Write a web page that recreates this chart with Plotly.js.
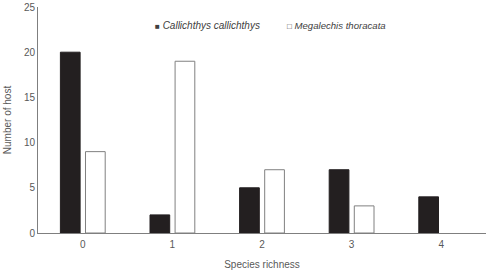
<!DOCTYPE html>
<html><head><meta charset="utf-8">
<script src="https://cdn.plot.ly/plotly-3.0.1.min.js"></script>
<style>html,body{margin:0;padding:0;background:#fff}#c{width:489px;height:270px}</style>
</head><body><div id="c"></div>
<script>
const categories = ['0','1','2','3','4'];
const callichthys = [20, 2, 5, 7, 4];
const megalechis = [9, 19, 7, 3, 0];
const seriesNames = ['Callichthys callichthys', 'Megalechis thoracata'];

const traces = [
  {type:'bar', x:categories, y:callichthys, name:seriesNames[0], showlegend:false,
   width:0.22, offset:-0.25,
   marker:{color:'#231f20', line:{color:'#231f20', width:callichthys.map(v => v === 0 ? 0 : 1)}}},
  {type:'bar', x:categories, y:megalechis, name:seriesNames[1], showlegend:false,
   width:0.22, offset:0.03,
   marker:{color:'#ffffff', line:{color:'#808080', width:megalechis.map(v => v === 0 ? 0 : 1)}}}
];
const legFont = {family:'Liberation Sans, Arial, sans-serif', size:10, color:'#404040'};
const L = 38, R = 486, T = 7, B = 233;
const layout = {
  width:489, height:270,
  margin:{l:L, r:489-R, t:T, b:270-B},
  paper_bgcolor:'#fff', plot_bgcolor:'#fff',
  font:{family:'Liberation Sans, Arial, sans-serif', size:10, color:'#595959'},
  showlegend:false,
  annotations:[
    {xref:'paper', yref:'paper', x:(153-L)/(R-L), y:(B-25)/(B-T), xanchor:'left', yanchor:'middle', showarrow:false,
     text:'<span style="font-size:8px">■</span> <i>' + seriesNames[0] + '</i>', font:legFont},
    {xref:'paper', yref:'paper', x:(285-L)/(R-L), y:(B-25)/(B-T), xanchor:'left', yanchor:'middle', showarrow:false,
     text:'<span style="font-size:8px">□</span> <i>' + seriesNames[1] + '</i>', font:{...legFont, size:9.6}}
  ],
  xaxis:{type:'category', showgrid:false, zeroline:false, showline:true, linecolor:'#7f7f7f', linewidth:1,
    ticks:'', ticklabelstandoff:2, tickfont:{size:10, color:'#595959'},
    title:{text:'Species richness', font:{size:10, color:'#595959'}, standoff:14}},
  yaxis:{range:[0,25], dtick:5, showgrid:false, zeroline:false, showline:true, linecolor:'#7f7f7f', linewidth:1,
    ticks:'', tickfont:{size:10, color:'#595959'},
    title:{text:'Number of host', font:{size:10, color:'#595959'}, standoff:10}}
};
Plotly.newPlot('c', traces, layout, {displayModeBar:false, staticPlot:true});
</script></body></html>
